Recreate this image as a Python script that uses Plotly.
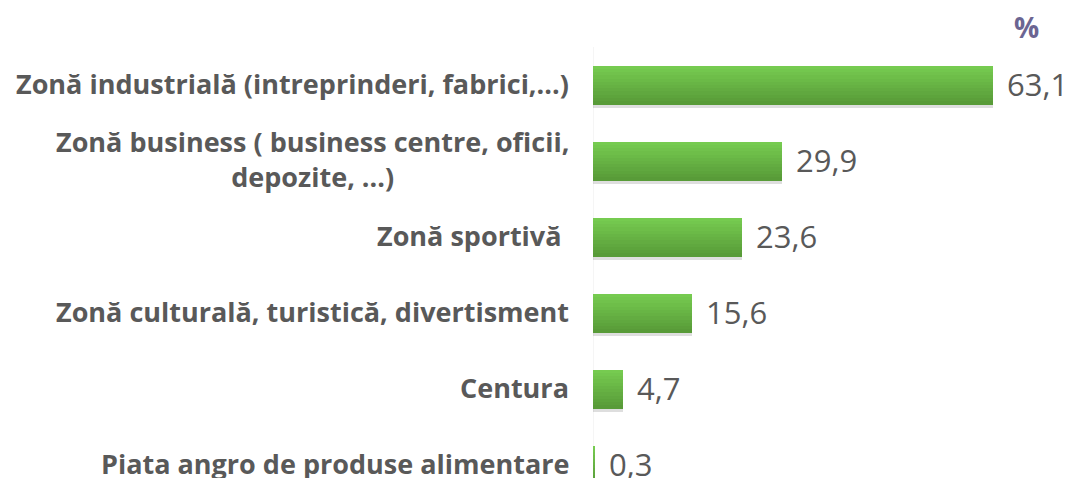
import plotly.graph_objects as go

categories = [
    "Zonă industrială (intreprinderi, fabrici,...)",
    "Zonă business ( business centre, oficii,<br>depozite, ...)",
    "Zonă sportivă\u00a0",
    "Zonă culturală, turistică, divertisment",
    "Centura",
    "Piata angro de produse alimentare",
]
values = [63.1, 29.9, 23.6, 15.6, 4.7, 0.3]
unit_label = "%"

value_text = [f"{v:.1f}".replace(".", ",") for v in values]
ypos = list(range(len(categories)))

W, H = 1062, 470          # page body has an 8px margin
ML, MR, MT, MB = 585, 2, 39, 0

fig = go.Figure()

# shadow
fig.add_trace(go.Bar(
    x=values, y=ypos, orientation="h", width=0.51, offset=-0.255 + 0.045,
    marker=dict(color="rgba(0,0,0,0.13)", line=dict(width=0)),
    hoverinfo="skip", showlegend=False,
))

# gradient stripes
n = 12
top = (0x76, 0xCB, 0x50)
bot = (0x58, 0x9B, 0x38)
w = 0.51
for i in range(n):
    t = i / (n - 1)
    c = tuple(round(top[k] + (bot[k] - top[k]) * t) for k in range(3))
    fig.add_trace(go.Bar(
        x=values, y=ypos, orientation="h",
        width=w / n + 0.002, offset=-w / 2 + i * w / n,
        marker=dict(color="rgb(%d,%d,%d)" % c, line=dict(width=0)),
        hoverinfo="skip", showlegend=False,
    ))

annotations = []
for yi, (cat, txt, v) in enumerate(zip(categories, value_text, values)):
    annotations.append(dict(
        x=v, y=yi, xref="x", yref="y", text=txt, showarrow=False,
        xanchor="left", yanchor="middle", xshift=12, yshift=1,
        font=dict(family="Open Sans", size=31, color="#595959"),
    ))
    annotations.append(dict(
        x=0, y=yi, xref="paper", yref="y", text="<b>" + cat + "</b>", showarrow=False,
        xanchor="right", yanchor="middle", xshift=-22, yshift=2, align="center",
        font=dict(family="Open Sans", size=27, color="#595959"),
    ))
pw = W - ML - MR
ph = H - MT - MB
annotations.append(dict(
    x=(1018 - ML) / pw, y=1 + (MT - 19) / ph, xref="paper", yref="paper",
    text="<b>" + unit_label + "</b>", xanchor="center", yanchor="middle",
    showarrow=False, font=dict(family="Open Sans", size=28, color="#6B6592"),
))

fig.update_layout(
    width=W, height=H,
    margin=dict(l=ML, r=MR, t=MT, b=MB, autoexpand=False),
    plot_bgcolor="white", paper_bgcolor="white",
    barmode="overlay", bargap=0,
    showlegend=False,
    xaxis=dict(range=[0, 75], visible=False, fixedrange=True),
    yaxis=dict(range=[5.17, -0.5], showticklabels=False, showgrid=False, zeroline=False,
               showline=False, fixedrange=True),
    annotations=annotations,
    shapes=[dict(type="line", xref="x", yref="paper", x0=0, x1=0, y0=0, y1=1,
                 line=dict(color="#EBEBEB", width=1), layer="below")],
)

fig.write_html("out.html")
